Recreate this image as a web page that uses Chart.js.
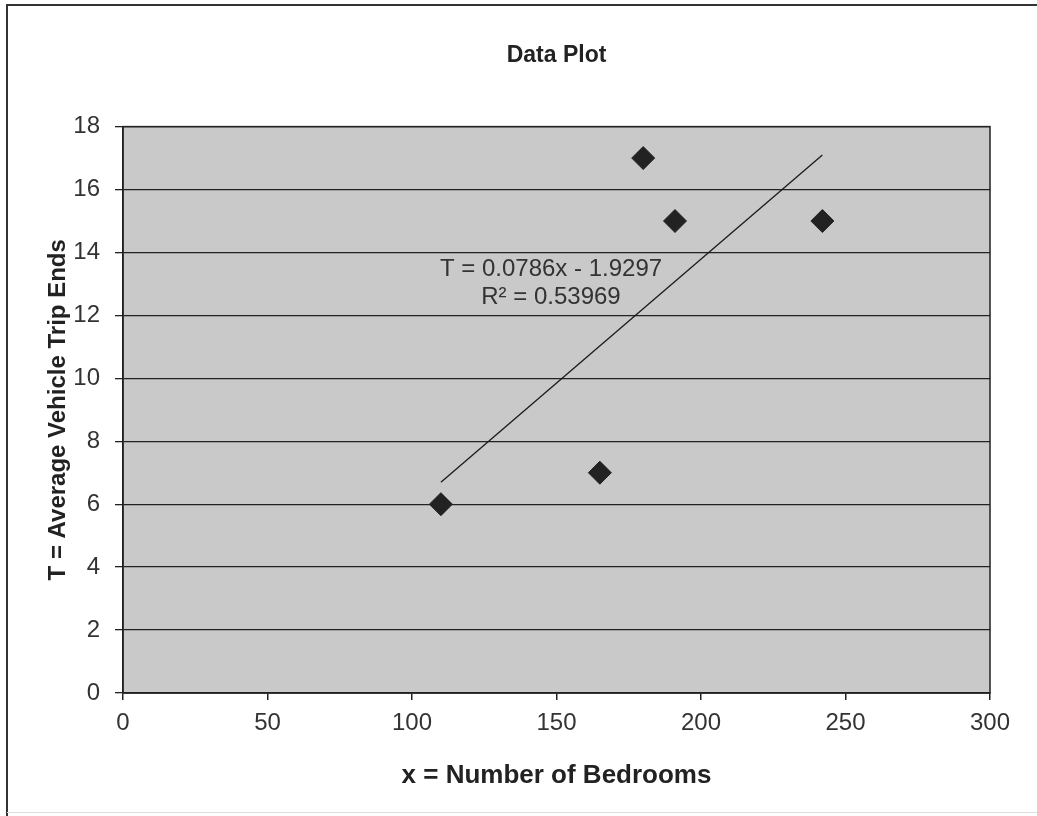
<!DOCTYPE html>
<html>
<head>
<meta charset="utf-8">
<script src="https://cdn.jsdelivr.net/npm/chart.js@4.4.1/dist/chart.umd.min.js"></script>
<style>
  html, body { margin: 0; padding: 0; background: #ffffff; }
  #wrap { width: 1037px; height: 816px; position: relative; }
  canvas { display: block; }
</style>
</head>
<body>
<div id="wrap"><canvas id="c" width="1037" height="816"></canvas></div>
<script>
// Data
const bedrooms = [110, 165, 180, 191, 242];
const tripEnds = [6, 7, 17, 15, 15];
const trendX = [110, 242];
const trendY = [6.7, 17.1];
const equationLines = ['T = 0.0786x - 1.9297', 'R\u00B2 = 0.53969'];
const chartTitle = 'Data Plot';
const xTitle = 'x = Number of Bedrooms';
const yTitle = 'T = Average Vehicle Trip Ends';
const xTicks = [0, 50, 100, 150, 200, 250, 300];
const yTicks = [0, 2, 4, 6, 8, 10, 12, 14, 16, 18];

const FONT = "'Liberation Sans', Arial, sans-serif";

const framePlugin = {
  id: 'frame',
  beforeDraw(chart) {
    const ctx = chart.ctx;
    const a = chart.chartArea;
    ctx.save();
    ctx.fillStyle = '#ffffff';
    ctx.fillRect(0, 0, chart.width, chart.height);
    // outer border
    ctx.strokeStyle = '#333333';
    ctx.lineWidth = 2;
    ctx.beginPath();
    ctx.moveTo(7, 816);
    ctx.lineTo(7, 5);
    ctx.lineTo(1037, 5);
    ctx.stroke();
    ctx.strokeStyle = '#dddddd';
    ctx.lineWidth = 1;
    ctx.beginPath();
    ctx.moveTo(7, 812.5);
    ctx.lineTo(1037, 812.5);
    ctx.stroke();
    // plot area background
    ctx.fillStyle = '#c9c9c9';
    ctx.fillRect(a.left, a.top, a.right - a.left, a.bottom - a.top);
    ctx.restore();
  },
  afterDatasetsDraw(chart) {
    const ctx = chart.ctx;
    const a = chart.chartArea;
    ctx.save();
    ctx.strokeStyle = '#222222';
    ctx.lineWidth = 1.5;
    ctx.strokeRect(a.left, a.top, a.right - a.left, a.bottom - a.top);
    // equation label
    ctx.fillStyle = '#333333';
    ctx.font = '24px ' + FONT;
    ctx.textAlign = 'center';
    ctx.textBaseline = 'middle';
    ctx.fillText(equationLines[0], 551, 269);
    ctx.fillText(equationLines[1], 551, 297);
    ctx.restore();
  }
};

new Chart(document.getElementById('c'), {
  type: 'scatter',
  data: {
    datasets: [
      {
        label: 'Data',
        data: bedrooms.map((x, i) => ({ x: x, y: tripEnds[i] })),
        pointStyle: 'rectRot',
        pointRadius: 11.5,
        pointHoverRadius: 11.5,
        backgroundColor: '#222222',
        borderColor: '#222222',
        borderWidth: 1,
        order: 1
      },
      {
        label: 'Trend',
        type: 'line',
        data: trendX.map((x, i) => ({ x: x, y: trendY[i] })),
        borderColor: '#1a1a1a',
        borderWidth: 1.3,
        pointRadius: 0,
        fill: false,
        order: 2
      }
    ]
  },
  options: {
    responsive: false,
    animation: false,
    events: [],
    layout: { padding: { left: 0, right: 47, top: 0, bottom: 0 } },
    plugins: {
      legend: { display: false },
      tooltip: { enabled: false },
      title: {
        display: true,
        text: chartTitle,
        fullSize: false,
        color: '#222222',
        font: { family: FONT, size: 23, weight: 'bold' },
        padding: { top: 42, bottom: 57 }
      }
    },
    scales: {
      x: {
        type: 'linear',
        min: 0, max: 300,
        afterBuildTicks(scale) { scale.ticks = xTicks.map(v => ({ value: v })); },
        afterFit(scale) { scale.height = 123; },
        border: { display: true, color: '#222222', width: 1.5 },
        grid: { drawOnChartArea: false, drawTicks: true, tickLength: 7, color: '#222222', lineWidth: 1.5 },
        ticks: { color: '#333333', font: { family: FONT, size: 24 }, padding: 9, maxRotation: 0 },
        title: {
          display: true, text: xTitle, color: '#222222',
          font: { family: FONT, size: 26, weight: 'bold' },
          padding: { top: 0, bottom: 25 }
        }
      },
      y: {
        type: 'linear',
        min: 0, max: 18,
        afterBuildTicks(scale) { scale.ticks = yTicks.map(v => ({ value: v })); },
        afterFit(scale) { scale.width = 123; },
        border: { display: true, color: '#222222', width: 1.5 },
        grid: { drawOnChartArea: true, drawTicks: true, tickLength: 8, color: '#222222', lineWidth: 1.3 },
        ticks: { color: '#333333', font: { family: FONT, size: 24 }, padding: 15 },
        title: {
          display: true, text: yTitle, color: '#222222',
          font: { family: FONT, size: 24, weight: 'bold' },
          padding: { top: 44, bottom: 0 }
        }
      }
    }
  },
  plugins: [framePlugin]
});
</script>
</body>
</html>
